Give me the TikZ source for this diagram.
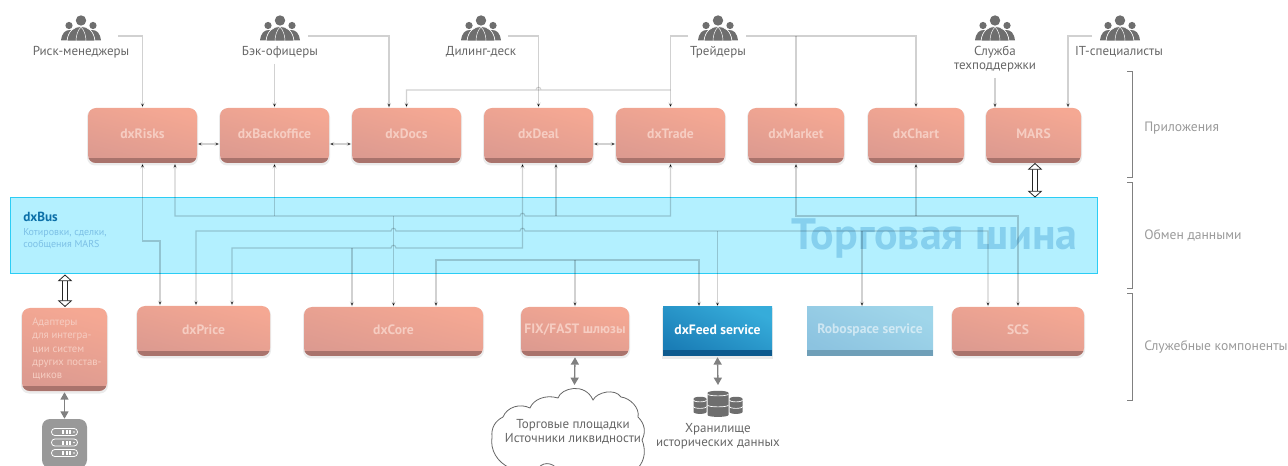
\documentclass[tikz,border=0pt]{standalone}
\usepackage{fontspec}
\setmainfont{PT Sans}
\usetikzlibrary{arrows.meta,calc}
\definecolor{boxtop}{HTML}{F5A893}
\definecolor{boxbot}{HTML}{DC9A90}
\definecolor{boxbar}{HTML}{A9736C}
\definecolor{boxtxt}{HTML}{F6CDC2}
\definecolor{busfill}{HTML}{B3F0FF}
\definecolor{busline}{HTML}{2BCDF5}
\definecolor{iconc}{HTML}{6E6E6E}
\definecolor{txtc}{HTML}{666666}
\definecolor{sidec}{HTML}{9A9A9A}
\definecolor{bigc}{HTML}{86D0EE}
\definecolor{bus1}{HTML}{0B6FA8}
\definecolor{bus2}{HTML}{7CC0E6}
\definecolor{dfa}{HTML}{36ACDA}
\definecolor{dfb}{HTML}{1A7DB6}
\definecolor{dfc}{HTML}{0D5A8E}
\definecolor{rba}{HTML}{A0D6EA}
\definecolor{rbb}{HTML}{8CC3E0}
\definecolor{rbc}{HTML}{6F9FB8}
\tikzset{
  x=0.75pt,y=-0.75pt,
  conn/.style={draw=black,draw opacity=.18,line width=.85pt},
  tipe/.style={conn,-{Stealth[length=4pt,width=3.2pt]}},
  tipb/.style={conn,{Stealth[length=4pt,width=3.2pt]}-{Stealth[length=4pt,width=3.2pt]}},
  thick2/.style={draw=black!50,line width=1pt,{Triangle[length=5.5pt,width=6pt]}-{Triangle[length=5.5pt,width=6pt]}},
  hollow/.style={draw=black!85,double=white,double distance=3.4pt,line width=.6pt,
     {Triangle[open,fill=white,length=5pt,width=11pt]}-{Triangle[open,fill=white,length=5pt,width=11pt]}},
  lbl/.style={font=\fontsize{9.75pt}{10.4pt}\selectfont,text=txtc,align=center,inner sep=0pt},
  side/.style={font=\fontsize{10.2pt}{11pt}\selectfont,text=sidec,anchor=west,inner sep=0pt},
  boxname/.style={font=\fontsize{10.2pt}{11pt}\selectfont\bfseries,inner sep=0pt},
  bracket/.style={draw=black!50,line width=.6pt},
  iconbox/.style={inner sep=0pt,minimum width=42pt,minimum height=20pt},
}
% name,x1,y1,x2,y2,label
\newcommand{\appbox}[6]{%
  \fill[black!8,rounded corners=6pt] (#2-1,#3+1) rectangle (#4+1,#5+2.5);
  \pgfmathsetlengthmacro{\bw}{(#4-#2)*0.75pt}\pgfmathsetlengthmacro{\bh}{(#5-#3)*0.75pt}
  \node[rounded corners=6pt,top color=boxtop,bottom color=boxbot,shading angle=-15,
    minimum width=\bw,minimum height=\bh,inner sep=0pt,text=boxtxt] (#1) at ({(#2+#4)/2},{(#3+#5)/2}) {};
  \begin{scope}
    \clip[rounded corners=6pt] (#2,#3) rectangle (#4,#5);
    \fill[boxbar] (#2,#5-5) rectangle (#4,#5);
  \end{scope}
  \node[boxname,text=boxtxt] (#1t) at ({(#2+#4)/2},{(#3+#5)/2-1.5}) {#6};
}
\newcommand{\people}[2]{%
  \node[iconbox] (#1) at (#2,28) {};
  \begin{scope}[shift={(#2,0)}]
    \fill[iconc] (-20,40.5) .. controls (-19,33) and (-16,30) .. (-11,30) .. controls (-6,30) and (-3,33) .. (-2,40.5) -- cycle;
    \fill[iconc] (20,40.5) .. controls (19,33) and (16,30) .. (11,30) .. controls (6,30) and (3,33) .. (2,40.5) -- cycle;
    \fill[iconc] (-12,25.5) circle[radius=3.6];
    \fill[iconc] (12,25.5) circle[radius=3.6];
    \fill[iconc,draw=white,line width=.5pt] (-14,41) .. controls (-13,31) and (-7,26.5) .. (0,26.5) .. controls (7,26.5) and (13,31) .. (14,41) -- cycle;
    \draw[white,line width=.35pt] (-5,41) .. controls (-5,35) and (-3,30) .. (0,27);
    \draw[white,line width=.35pt] (5,41) .. controls (5,35) and (3,30) .. (0,27);
    \fill[iconc] (0,20.5) circle[radius=5.2];
  \end{scope}
}
\newcommand{\hoph}[2]{-- ({#1-2.5},#2) .. controls ({#1-2.5},{#2-3.6}) and ({#1+2.5},{#2-3.6}) .. ({#1+2.5},#2)}
\newcommand{\dbcyl}[4]{% cx, top, halfwidth, bottom
  \fill[iconc] ({#1-#3},#2) -- ({#1-#3},#4) .. controls ({#1-#3},#4+2.5) and ({#1+#3},#4+2.5) .. ({#1+#3},#4) -- ({#1+#3},#2)
     .. controls ({#1+#3},#2-3) and ({#1-#3},#2-3) .. ({#1-#3},#2) -- cycle;
  \draw[white,line width=.5pt] ({#1-#3},#2+1) .. controls ({#1-#3},#2+3.5) and ({#1+#3},#2+3.5) .. ({#1+#3},#2+1);
  \draw[white,line width=.5pt] ({#1-#3},{(#2+#4)/2+1}) .. controls ({#1-#3},{(#2+#4)/2+3.5}) and ({#1+#3},{(#2+#4)/2+3.5}) .. ({#1+#3},{(#2+#4)/2+1});
}
\begin{document}
\begin{tikzpicture}
\useasboundingbox (0,0) rectangle (1288,466);
% bus
\node[draw=busline,fill=busfill,line width=.75pt,minimum width={1087*0.75pt},minimum height={76*0.75pt},inner sep=0pt] (bus) at (553.5,236) {};
\node[anchor=west,inner sep=0pt,text=bus1,font=\fontsize{9.9pt}{11pt}\selectfont\bfseries] (busname) at (23,217) {dxBus};
\node[anchor=north west,inner sep=0pt,text=bus2,align=left,font=\fontsize{7.5pt}{9pt}\selectfont] (bussub) at (23,228.5) {Котировки, сделки,\\сообщения MARS};
\node[anchor=east,inner sep=0pt,text=bigc,font=\fontsize{33pt}{35pt}\selectfont\bfseries] (bigname) at (1078,239) {Торговая шина};
% top row
\appbox{dxRisks}{88}{108}{197}{163}{dxRisks}
\appbox{dxBackoffice}{220}{108}{329}{163}{dxBackoffice}
\appbox{dxDocs}{352}{108}{461}{163}{dxDocs}
\appbox{dxDeal}{484}{108}{593}{163}{dxDeal}
\appbox{dxTrade}{616}{108}{725}{163}{dxTrade}
\appbox{dxMarket}{748}{108}{844}{163}{dxMarket}
\appbox{dxChart}{868}{108}{964}{163}{dxChart}
\appbox{MARS}{986}{108}{1081}{163}{MARS}
% bottom row
\appbox{dxPrice}{137}{306}{270}{356}{dxPrice}
\appbox{dxCore}{304}{307}{483}{356}{dxCore}
\appbox{fixfast}{521}{307}{629}{356}{FIX/FAST шлюзы}
\appbox{scs}{952}{307}{1084}{356}{SCS}
% adapters
\appbox{adapters}{22}{308}{107}{391}{}
\node[anchor=north west,inner sep=0pt,text=boxtxt,align=left,font=\fontsize{8pt}{10pt}\selectfont] (adaptxt) at (32,317.5) {Адаптеры\\для интегра-\\ции систем\\других постав-\\щиков};
% dxFeed
\fill[black!8] (662,308) rectangle (773,359);
\node[inner sep=0pt,minimum width={109*.75pt},minimum height={49*.75pt},
  top color=dfa,bottom color=dfb,shading angle=-25] (dxFeed) at (717.5,331.5) {} ;
\fill[dfc] (662.5,350) rectangle (772,356);
\node[boxname,text=white] (dxFeedt) at (717.5,330) {dxFeed service};
% Robospace
\node[inner sep=0pt,minimum width={126*.75pt},minimum height={49*.75pt},top color=rba,bottom color=rbb,shading angle=-25] (robo) at (870,331.5) {};
\fill[rbc] (807,350) rectangle (933,356);
\node[boxname,text=white,opacity=.55] (robot) at (870,330) {Robospace service};
% people
\people{uRisk}{81}
\people{uBack}{280}
\people{uDeal}{481}
\people{uTrade}{718}
\people{uSup}{995}
\people{uIT}{1120}
\node[lbl] (lRisk) at (81,52) {Риск-менеджеры};
\node[lbl] (lBack) at (280,52) {Бэк-офицеры};
\node[lbl] (lDeal) at (481,52) {Дилинг-деск};
\node[lbl] (lTrade) at (718,52) {Трейдеры};
\node[lbl,anchor=north] (lSup) at (995,45.5) {Служба\\техподдержки};
\node[lbl] (lIT) at (1119,52) {IT-специалисты};
% named free ends
\coordinate (sRisk) at (118,36);
\coordinate (sBack) at (308,36);
\coordinate (sDeal) at (508,36);
\coordinate (sTradeL) at (688,36);
\coordinate (sTradeR) at (746,36);
\coordinate (sIT) at (1092,36);
\coordinate (eDocsA) at (389,108);
\coordinate (eIT) at (1068,108);
\coordinate (eSup) at (995,108);
\coordinate (sBackV) at (274.5,64);
\coordinate (sSupV) at (995,78);
\coordinate (tradeBus) at (670.5,90);
% top connectors
\draw[tipe] (sRisk) -| (dxRisks.north);
\draw[tipe] (sBackV) -- (dxBackoffice.north);
\draw[tipe] (sBack) -| (eDocsA);
\draw[tipe] (sDeal) -| (dxDeal.north);
\draw[tipe] (sTradeL) -| (dxTrade.north);
\draw[tipe] (tradeBus) \hoph{538.5}{90} -- (406.5,90) -- (dxDocs.north);
\draw[tipe] (sTradeR) -| (dxChart.north);
\draw[tipe] (sTradeR -| dxMarket.north) -- (dxMarket.north);
\draw[tipe] (sSupV) -- (eSup);
\draw[tipe] (sIT) -| (eIT);
% sideways
\coordinate (hA) at (0,144);
\draw[tipb] (dxRisks.east |- hA) -- (dxBackoffice.west |- hA);
\draw[tipb] (dxBackoffice.east |- hA) -- (dxDocs.west |- hA);
\draw[tipb] (dxDeal.east |- hA) -- (dxTrade.west |- hA);
% bus connectors
\coordinate (bA) at (160,241);
\draw[tipb] (dxRisks.south) |- (bA) -- (bA |- dxPrice.north);
\coordinate (yA) at (175,216);
\coordinate (xB) at (522.5,248);
\coordinate (xC) at (556,216);
\draw[tipb] (yA |- dxRisks.south) -- (yA) \hoph{522.5}{216} -- (dxTrade.south |- yA) -- (dxTrade.south);
\draw[tipe] (dxBackoffice.south |- yA) -- (dxBackoffice.south);
\draw[tipe] (xC) -- (xC |- dxDeal.south);
\draw[tipe] (dxCore.north |- yA) -- (dxCore.north);
\coordinate (yB) at (196,231);
\coordinate (xE) at (988,231);
\coordinate (xR) at (862,231);
\draw[tipb] (yB |- dxPrice.north) -- (yB) \hoph{393.5}{231} \hoph{522.5}{231} -- (xE) -- (xE |- scs.north);
\draw[tipe] (dxFeed.north |- yB) -- (dxFeed.north);
\draw[tipe] (xR) -- (xR |- robo.north);
\coordinate (yC) at (232,248);
\coordinate (xD) at (352,248);
\draw[tipb] (yC |- dxPrice.north) -- (yC) \hoph{393.5}{248} -- (xB) -- (xB |- dxDeal.south);
\draw[tipe] (xD) -- (xD |- dxCore.north);
\coordinate (yD) at (436,260);
\coordinate (xF) at (699,260);
\draw[tipb] (yD |- dxCore.north) -- (yD) -- (xF) -- (xF |- dxFeed.north);
\draw[tipe] (fixfast.north |- yD) -- (fixfast.north);
\coordinate (yE) at (796,216);
\draw[tipb] (dxMarket.south) |- (scs.north |- yE) -- (scs.north);
\draw[tipe] (dxChart.south |- yE) -- (dxChart.south);
% hollow arrows
\coordinate (hM) at (1035,163);
\coordinate (hB) at (65,307);
\draw[hollow] (hM) -- (hM |- bus.north);
\draw[hollow] (hB |- bus.south) -- (hB);
% brackets
\coordinate (brA) at (1127,71);\coordinate (brB) at (1127,177);
\coordinate (brC) at (1127,182);\coordinate (brD) at (1127,288);
\coordinate (brE) at (1127,293);\coordinate (brF) at (1127,400);
\draw[bracket] (brA) -- ++(5,0) |- (brB);
\draw[bracket] (brC) -- ++(5,0) |- (brD);
\draw[bracket] (brE) -- ++(5,0) |- (brF);
\node[side] (sA) at (1144,128.5) {Приложения};
\node[side] (sB) at (1144,235.5) {Обмен данными};
\node[side] (sC) at (1144,346.5) {Служебные компоненты};
% server
\node[fill=black!40,rounded corners=6pt,inner sep=0pt,minimum width={45*.75pt},minimum height={49*.75pt}] (server) at (64.5,443.5) {};
\foreach \yy in {432,442.5,453}{
  \draw[white,line width=.6pt,rounded corners=2.5pt] (51.5,\yy-3.5) rectangle (77.5,\yy+3.5);
  \fill[white] (62,\yy-2) rectangle (64,\yy+2);
  \fill[white] (65.5,\yy-2) rectangle (67.5,\yy+2);
  \fill[white] (69,\yy-2) rectangle (71,\yy+2);
  \fill[white] (74,\yy) circle[radius=.9];
}
\draw[thick2] (adapters.south) ++(0,1) -- (server.north);
% database
\node[inner sep=0pt,minimum width={50*.75pt},minimum height={28*.75pt}] (dbase) at (718,404) {};
\dbcyl{700}{399}{6.5}{412}
\dbcyl{736}{399}{6.5}{412}
\dbcyl{718}{393}{10.5}{415}
\node[lbl,anchor=north] (dbl) at (718,423) {Хранилище\\исторических данных};
\coordinate (dbTop) at (718,385);
\draw[thick2] (dxFeed.south) ++(0,1) -- (dbTop);
% cloud
\begin{scope}
\clip (470,375) rectangle (660,466);
\draw[black!60,line width=.6pt,fill=white] (510,468) .. controls (497,462) and (490,450) .. (492,437)
  .. controls (491,428) and (495,421) .. (503,417)
  .. controls (507,407) and (520,403) .. (530,408)
  .. controls (533,400) and (545,394) .. (558,398)
  .. controls (561,388) and (585,382) .. (593,400)
  .. controls (597,392) and (615,388) .. (621,397)
  .. controls (630,398) and (640,408) .. (638,417)
  .. controls (645,424) and (646,432) .. (642,440)
  .. controls (646,450) and (645,460) .. (638,468);
\draw[black!60,line width=.6pt] (537,470) .. controls (541,462) and (552,461) .. (558,470);
\end{scope}
\node[lbl,anchor=north] (cloudt) at (573,419) {Торговые площадки\\Источники ликвидности};
\coordinate (cloudTop) at (574.5,385);
\draw[thick2] (fixfast.south) ++(0,1) -- (cloudTop);
\end{tikzpicture}
\end{document}
